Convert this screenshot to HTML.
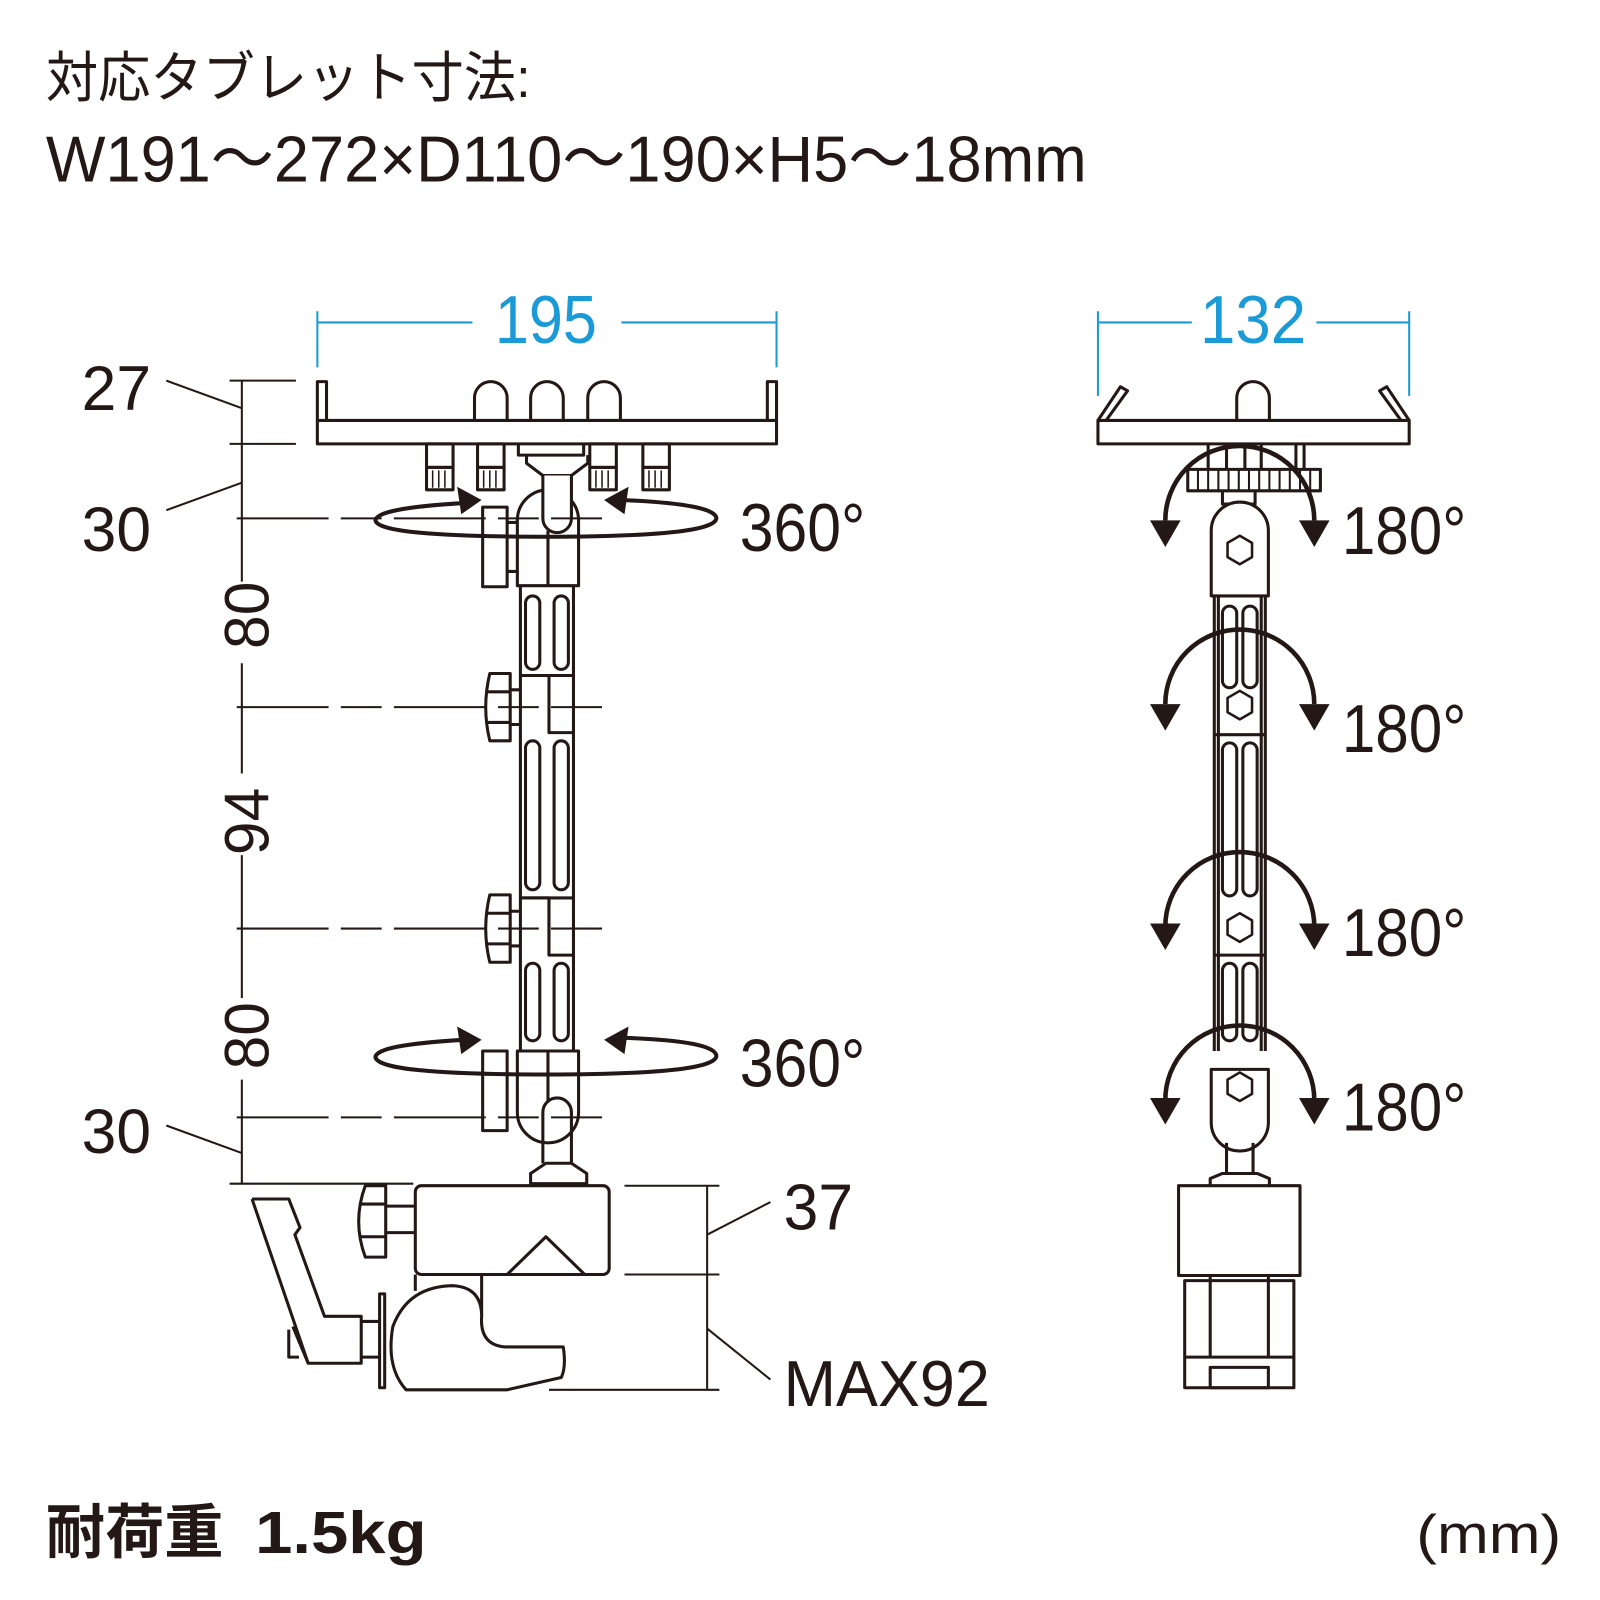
<!DOCTYPE html>
<html><head><meta charset="utf-8"><style>
html,body{margin:0;padding:0;background:#fff;width:1600px;height:1600px;overflow:hidden}
svg{display:block}
text{font-family:"Liberation Sans","Noto Sans CJK JP",sans-serif;fill:#231815}
</style></head><body>
<svg width="1600" height="1600" viewBox="0 0 1568 1568" xmlns="http://www.w3.org/2000/svg">
<text x="45" y="95" font-size="54" textLength="475" lengthAdjust="spacingAndGlyphs">対応タブレット寸法:</text>
<text x="45" y="178" font-size="64" textLength="1020" lengthAdjust="spacingAndGlyphs">W191～272×D110～190×H5～18mm</text>
<text x="45" y="1522" font-size="58" font-weight="bold">耐荷重<tspan x="250" textLength="168" lengthAdjust="spacingAndGlyphs">1.5kg</tspan></text>
<text x="1388" y="1522" font-size="54" textLength="142" lengthAdjust="spacingAndGlyphs">(mm)</text>

<g stroke="#1a9ad6" stroke-width="2" fill="none">
<path d="M311,305V360M761,305V360M311,316H463M609,316H761"/>
<path d="M1076,305V388M1381,305V388M1076,316H1168M1290,316H1381"/>
</g>
<text x="535" y="336" font-size="66" text-anchor="middle" textLength="100" lengthAdjust="spacingAndGlyphs" style="fill:#1a9ad6">195</text>
<text x="1228" y="336" font-size="66" text-anchor="middle" textLength="104" lengthAdjust="spacingAndGlyphs" style="fill:#1a9ad6">132</text>

<g stroke="#231815" stroke-width="3" fill="none" stroke-linejoin="round">
<rect x="311" y="412" width="450" height="23" fill="#fff"/>
<path d="M311,412V374H320V412M752,412V374H761V412"/>
<path d="M465,412V390A16,16 0 0 1 497,390V412M520,412V390A16,16 0 0 1 552,390V412M576,412V390A16,16 0 0 1 608,390V412"/>
<g>
<rect x="418" y="435" width="26" height="23"/><rect x="418" y="458" width="26" height="22"/>
<rect x="468" y="435" width="26" height="23"/><rect x="468" y="458" width="26" height="22"/>
<rect x="578" y="435" width="26" height="23"/><rect x="578" y="458" width="26" height="22"/>
<rect x="630" y="435" width="26" height="23"/><rect x="630" y="458" width="26" height="22"/>
</g>
<path stroke-width="1.5" d="M424,461V478M430,461V478M436,461V478M474,461V478M480,461V478M486,461V478M584,461V478M590,461V478M596,461V478M636,461V478M642,461V478M648,461V478"/>
<path d="M508,435V446H572V435M516,446V454L532,466H560L576,454V446"/>
<path d="M507,574V510A30,30 0 0 1 567,510V574Z" fill="#fff"/>
<path d="M537,520V574"/>
<rect x="473" y="497" width="24" height="78" fill="#fff"/>
<path d="M497,512H507M497,560H507"/>
<path d="M532,466V508A14,14 0 0 0 560,508V466" fill="#fff"/>
<path d="M510,574V662H538V718H562V574M538,662V718M510,662H562"/>
<path d="M510,662V880H538V936H562V718"/>
<path d="M538,880V936M510,880H562"/>
<path d="M510,880V1030H562V936"/>
<rect x="515" y="584" width="14" height="72" rx="7"/><rect x="543" y="584" width="14" height="72" rx="7"/>
<rect x="515" y="726" width="14" height="146" rx="7"/><rect x="543" y="726" width="14" height="146" rx="7"/>
<rect x="515" y="944" width="14" height="76" rx="7"/><rect x="543" y="944" width="14" height="76" rx="7"/>
<path d="M500,660V726H480Q472,693 480,660ZM476,678H500M476,708H500M500,676H510M500,710H510" fill="#fff"/>
<path d="M500,877V943H480Q472,910 480,877ZM476,895H500M476,925H500M500,893H510M500,927H510" fill="#fff"/>
<path d="M507,1030V1090A30,30 0 0 0 567,1090V1030Z" fill="#fff"/>
<path d="M537,1030V1080"/>
<rect x="473" y="1030" width="24" height="78" fill="#fff"/>
<path d="M532,1110V1090A14,14 0 0 1 560,1090V1140M532,1110V1140"/>
<path d="M520,1150L535,1140H560L575,1150V1160H520Z" fill="#fff"/>
<rect x="407" y="1162" width="190" height="87" rx="6" fill="#fff"/>
<path d="M497,1249L535,1212L573,1249"/>
<path d="M358,1162H378V1232H358Q345,1197 358,1162ZM352,1180H378M352,1212H378M378,1182H407M378,1208H407"/>
<path d="M407,1249V1265M472,1249V1290"/>
<path d="M472,1290Q472,1262 445,1260Q400,1260 385,1300Q378,1340 398,1362H497L550,1350Q555,1340 552,1320H495Q470,1318 472,1290Z" fill="#fff"/>
<rect x="372" y="1268" width="5" height="92" fill="#fff"/>
<path d="M247,1175H283L294,1203L289,1210L318,1290H354V1336H302L287,1300"/>
<path d="M247,1175L302,1336M283,1303V1330H293"/>
<path d="M354,1295H372M354,1330H372"/>
</g>

<g stroke="#231815" stroke-width="2" fill="none">
<path d="M237,373V570M237,650V758M237,838V978M237,1058V1160"/>
<path d="M225,373H290M225,435H290M225,1160H405"/>
<path d="M232,508H590" stroke-dasharray="90,12,40,12"/>
<path d="M232,693H590" stroke-dasharray="90,12,40,12"/>
<path d="M232,910H590" stroke-dasharray="90,12,40,12"/>
<path d="M232,1095H590" stroke-dasharray="90,12,40,12"/>
<path d="M163,373L237,400M163,500L237,473M163,1103L237,1130"/>
<path d="M612,1162H705M612,1249H705M538,1362H705M693,1162V1362M693,1210L755,1178M693,1302L755,1352"/>
</g>
<text x="80" y="402" font-size="62" textLength="68" lengthAdjust="spacingAndGlyphs">27</text>
<text x="80" y="540" font-size="62" textLength="68" lengthAdjust="spacingAndGlyphs">30</text>
<text x="80" y="1130" font-size="62" textLength="68" lengthAdjust="spacingAndGlyphs">30</text>
<text transform="translate(263,603) rotate(-90)" font-size="62" text-anchor="middle" textLength="66" lengthAdjust="spacingAndGlyphs">80</text>
<text transform="translate(263,805) rotate(-90)" font-size="62" text-anchor="middle" textLength="66" lengthAdjust="spacingAndGlyphs">94</text>
<text transform="translate(263,1015) rotate(-90)" font-size="62" text-anchor="middle" textLength="66" lengthAdjust="spacingAndGlyphs">80</text>
<text x="768" y="1205" font-size="64" textLength="68" lengthAdjust="spacingAndGlyphs">37</text>
<text x="768" y="1378" font-size="64" textLength="202" lengthAdjust="spacingAndGlyphs">MAX92</text>
<text x="725" y="540" font-size="66" textLength="123" lengthAdjust="spacingAndGlyphs">360°</text>
<text x="725" y="1065" font-size="66" textLength="123" lengthAdjust="spacingAndGlyphs">360°</text>

<g stroke="#231815" stroke-width="4" fill="none">
<path d="M455,493Q368,498 368,510Q370,526 535,526Q700,526 702,508Q702,494 610,490"/>
<path d="M455,1019Q368,1024 368,1036Q370,1053 535,1053Q700,1053 702,1035Q702,1020 610,1017"/>
</g>
<g fill="#231815">
<path d="M472,490L448,477L452,504Z"/><path d="M592,490L616,477L612,504Z"/>
<path d="M472,1019L448,1006L452,1033Z"/><path d="M592,1019L616,1006L612,1033Z"/>
</g>

<g stroke="#231815" stroke-width="3" fill="none" stroke-linejoin="round">
<rect x="1076" y="412" width="305" height="23" fill="#fff"/>
<path d="M1076,412L1098,379L1105,383L1084,412M1381,412L1359,379L1352,383L1373,412"/>
<path d="M1212,412V390A16,16 0 0 1 1244,390V412"/>
<path d="M1184,435V460M1202,435V460M1220,435V460M1236,435V460M1270,435V460M1278,435V460"/>
<rect x="1164" y="460" width="130" height="21" fill="#fff"/>
<path stroke-width="2" d="M1174,460V481M1184,460V481M1194,460V481M1204,460V481M1214,460V481M1224,460V481M1234,460V481M1244,460V481M1254,460V481M1264,460V481M1274,460V481M1284,460V481"/>
<path d="M1198,481V494H1230V481"/>
<path d="M1187,584V520A28,28 0 0 1 1243,520V584Z" fill="#fff"/>
<path d="M1190,584V1030M1240,584V1030M1194,584V1030M1236,584V1030"/>
<rect x="1198" y="594" width="14" height="80" rx="7"/><rect x="1218" y="594" width="14" height="80" rx="7"/>
<path d="M1190,720H1240"/>
<rect x="1198" y="728" width="14" height="150" rx="7"/><rect x="1218" y="728" width="14" height="150" rx="7"/>
<path d="M1190,936H1240"/>
<rect x="1198" y="944" width="14" height="76" rx="7"/><rect x="1218" y="944" width="14" height="76" rx="7"/>
<path d="M1187,1048V1100A28,28 0 0 0 1243,1100V1048Z" fill="#fff"/>
<path d="M1202,1120V1150M1228,1120V1150M1186,1162V1155L1198,1150H1232L1244,1155V1162"/>
<rect x="1155" y="1162" width="119" height="88" fill="#fff"/>
<rect x="1161" y="1255" width="107" height="105" fill="#fff"/>
<path d="M1186,1250V1330M1243,1250V1330M1161,1330H1268"/>
<rect x="1186" y="1340" width="57" height="20"/>
<g stroke-width="2.5">
<path d="M1215,525l12,7v14l-12,7l-12-7v-14z"/>
<path d="M1215,677l12,7v14l-12,7l-12-7v-14z"/>
<path d="M1215,895l12,7v14l-12,7l-12-7v-14z"/>
<path d="M1215,1051l12,7v14l-12,7l-12-7v-14z"/>
</g>
</g>
<g stroke="#231815" stroke-width="4.5" fill="none">
<path d="M1142,510A73,73 0 0 1 1288,510"/>
<path d="M1142,690A73,73 0 0 1 1288,690"/>
<path d="M1142,908A73,73 0 0 1 1288,908"/>
<path d="M1142,1078A73,73 0 0 1 1288,1078"/>
</g>
<g fill="#231815">
<path d="M1127,510H1157L1142,536Z"/><path d="M1273,510H1303L1288,536Z"/>
<path d="M1127,690H1157L1142,716Z"/><path d="M1273,690H1303L1288,716Z"/>
<path d="M1127,905H1157L1142,931Z"/><path d="M1273,905H1303L1288,931Z"/>
<path d="M1127,1076H1157L1142,1102Z"/><path d="M1273,1076H1303L1288,1102Z"/>
</g>
<text x="1315" y="543" font-size="66" textLength="122" lengthAdjust="spacingAndGlyphs">180°</text>
<text x="1315" y="737" font-size="66" textLength="122" lengthAdjust="spacingAndGlyphs">180°</text>
<text x="1315" y="937" font-size="66" textLength="122" lengthAdjust="spacingAndGlyphs">180°</text>
<text x="1315" y="1108" font-size="66" textLength="122" lengthAdjust="spacingAndGlyphs">180°</text>
</svg>
</body></html>
